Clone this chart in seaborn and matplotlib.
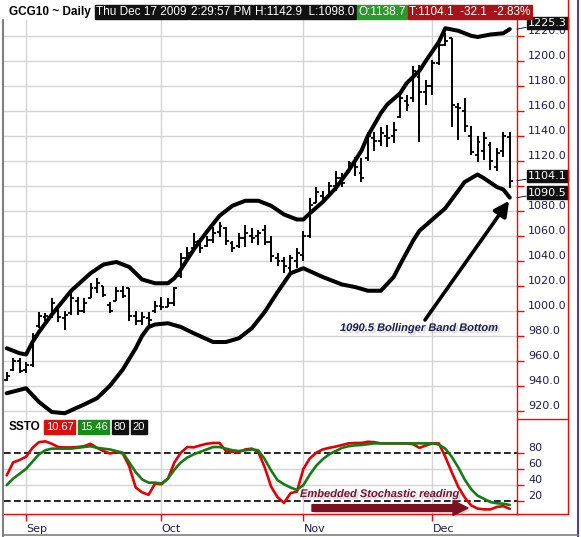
import numpy as np
import pandas as pd
import matplotlib
matplotlib.use("Agg")
import matplotlib.pyplot as plt
import matplotlib.patheffects as pe
from matplotlib.lines import Line2D
import seaborn as sns

# GCG10 daily bars, index 0 = Aug 27 2009 ... index 78 = Dec 17 2009
bar_open = [945, 953, 960, 953, 957, 988, 995, 996, 1000, 994, 998, 1008, 1000, 1010, 1018, 1020, 1005, 1008, 1016, 1018,
            996, 992, 994, 1000, 1004, 1003, 1006, 1028, 1042, 1050, 1056, 1052, 1057, 1063, 1066, 1054, 1052, 1058, 1060, 1060,
            1065, 1055, 1042, 1040, 1034, 1040, 1045, 1060, 1086, 1092, 1092, 1100, 1106, 1112, 1118, 1110, 1122, 1138, 1136, 1140,
            1140, 1155, 1168, 1170, 1187, 1175, 1180, 1198, 1213, 1218, 1163, 1160, 1140, 1125, 1128, 1133, 1115, 1128, 1138.7]
bar_high = [951, 962, 962, 959, 982, 999, 998, 1010, 1002, 1000, 1015, 1011, 1010, 1022, 1026, 1020, 1007, 1019, 1020, 1018,
            1000, 999, 999, 1008, 1011, 1010, 1019, 1046, 1051, 1062, 1058, 1060, 1067, 1071, 1067, 1056, 1062, 1069, 1066, 1065,
            1069, 1060, 1046, 1043, 1045, 1050, 1064, 1090, 1099, 1096, 1103, 1112, 1110, 1120, 1123, 1122, 1143, 1143, 1147, 1149,
            1151, 1176, 1173, 1196, 1197, 1185, 1201, 1217, 1222, 1218, 1166, 1170, 1148, 1140, 1143, 1135, 1130, 1143, 1142.9]
bar_low = [944, 952, 950, 950, 955, 986, 992, 994, 991, 985, 997, 997, 998, 1010, 1014, 1011, 998, 1008, 1010, 992,
           989, 989, 989, 998, 1001, 1003, 1004, 1026, 1041, 1049, 1046, 1051, 1054, 1059, 1053, 1047, 1050, 1051, 1054, 1053,
           1053, 1039, 1036, 1030, 1030, 1034, 1040, 1058, 1086, 1088, 1091, 1096, 1099, 1110, 1108, 1103, 1120, 1128, 1132, 1131,
           1134, 1154, 1160, 1167, 1135, 1165, 1173, 1197, 1212, 1147, 1137, 1143, 1125, 1119, 1121, 1113, 1112, 1123, 1098.0]
bar_close = [948, 960, 952, 957, 980, 996, 996, 1006, 995, 997, 1010, 1000, 1006, 1018, 1022, 1013, 1000, 1016, 1012, 996,
             992, 995, 993, 1004, 1003, 1006, 1018, 1042, 1046, 1055, 1050, 1057, 1062, 1068, 1056, 1050, 1058, 1062, 1058, 1062,
             1055, 1044, 1040, 1036, 1042, 1046, 1060, 1085, 1095, 1090, 1100, 1106, 1102, 1118, 1115, 1106, 1140, 1136, 1142, 1138,
             1145, 1170, 1165, 1192, 1175, 1180, 1198, 1213, 1216, 1165, 1162, 1148, 1127, 1135, 1138, 1120, 1126, 1140, 1104.1]

# Bollinger bands
upper_idx = [0, 2, 3, 4, 5, 7, 10, 13, 15, 17, 19, 21, 23, 25, 26, 27, 29, 31, 33, 35, 37, 39, 41, 43, 45, 46, 47, 49,
             51, 53, 55, 56, 58, 59, 61, 62, 64, 65, 67, 68, 70, 72, 73, 75, 77, 78]
upper_band = [970, 966, 965, 975, 983, 997, 1016, 1030, 1037, 1039, 1035, 1025, 1022, 1022, 1026, 1033, 1049, 1063, 1076,
              1084, 1088, 1088, 1084, 1077, 1073, 1073, 1078, 1087, 1098, 1112, 1128, 1140, 1158, 1165, 1174, 1182, 1192,
              1200, 1215, 1226, 1224, 1220, 1219, 1221, 1222, 1225.3]
lower_idx = [0, 3, 5, 7, 9, 12, 14, 16, 18, 20, 21, 22, 23, 25, 27, 29, 32, 34, 36, 38, 40, 42, 44, 46, 49, 52, 54, 56,
             58, 60, 61, 63, 64, 66, 68, 70, 71, 73, 74, 76, 77, 78]
lower_band = [934, 938, 927, 919, 918, 925, 930, 940, 953, 970, 980, 987, 989, 990, 987, 982, 975, 975, 978, 986, 999,
              1015, 1030, 1034, 1027, 1021, 1019, 1016, 1016, 1027, 1037, 1056, 1064, 1073, 1082, 1096, 1103, 1109, 1106,
              1099, 1097, 1090.5]

# slow stochastic %K (red) and %D (green)
ssto_k = [52, 68, 71, 75, 86, 93, 94, 91, 87, 86.5, 86.5, 87, 88, 91, 86, 82, 79, 81, 79, 63,
          37, 31, 28, 42, 41, 48, 68, 80, 87, 86.6, 89, 91, 92, 92, 82, 81, 81, 84, 85, 81,
          62, 38, 25, 18, 30, 32, 60, 73, 80, 84, 86, 87.5, 89.5, 91.5, 92, 92, 93.5, 93, 91.5, 91.5,
          91.5, 91.5, 91.5, 90.5, 86, 89, 91.5, 91.5, 75, 56, 38, 25, 15, 11, 10, 10, 13, 14, 10.67]
ssto_d = [40, 48, 54, 60, 69, 78, 83, 85, 85, 85, 85, 86, 87, 88, 86, 85, 84, 82, 80, 68,
          56, 47, 43, 43, 42, 48, 59, 68, 74, 78, 81, 84, 87, 87, 85, 83, 82, 83, 84, 83,
          72, 58, 46, 41, 37, 34, 40, 53, 64, 72, 78, 82, 86, 88, 89, 89.5, 90.5, 91.5, 91.5, 91.5,
          91.5, 91.5, 91.5, 91.5, 91.5, 91.5, 91.5, 90, 85, 75, 62, 47, 35, 27, 23, 19, 17.5, 17, 15.46]

month_labels = ["Sep", "Oct", "Nov", "Dec"]
month_idx = [3, 24, 46, 66]
price_ticks = [920, 940, 960, 980, 1000, 1020, 1040, 1060, 1080, 1100, 1120, 1140, 1160, 1180, 1200, 1220]
ssto_ticks = [20, 40, 60, 80]
header_text = ["Thu Dec 17 2009", "2:29:57 PM", "H:1142.9  L:1098.0", "O:1138.7", "T:1104.1  -32.1  -2.83%"]
header_color = ["#111111", "#111111", "#111111", "#2a9a2a", "#a5141a"]
legend_text = ["10.67", "15.46", "80", "20"]
legend_color = ["#d81010", "#1a8a1a", "#111111", "#111111"]

W, H = 581, 537
NAVY = "#1c1c50"
GRID = "#d4d4d4"
ARIAL = ["Liberation Sans", "DejaVu Sans"]


def fx(px):
    return px / W


def fy(py):
    return 1 - py / H


def box_row(fig, x0, y, texts, colors, size, pad, gap):
    # lay out black/coloured label boxes one after the other
    renderer = fig.canvas.get_renderer()
    pad_px = pad * size * 100 / 72
    x = x0 + pad_px
    for txt, col in zip(texts, colors):
        t = fig.text(fx(x), fy(y), txt, family=ARIAL, fontsize=size, color="white", va="center", ha="left",
                     bbox=dict(boxstyle=f"square,pad={pad}", fc=col, ec=col))
        ext = t.get_window_extent(renderer)
        x = x + ext.width + 2 * pad_px + gap


sns.set_style("white")
plt.rcParams["font.family"] = ["DejaVu Sans"]

fig = plt.figure(figsize=(W / 100, H / 100), dpi=100)
ax = fig.add_axes([fx(4), fy(419), fx(517) - fx(4), fy(20) - fy(419)])
ax2 = fig.add_axes([fx(4), fy(514), fx(517) - fx(4), fy(419) - fy(514)])

idx = np.arange(len(bar_close))
xlim = (-0.42, 79.12)

# ---- price panel ----
for p in price_ticks:
    ax.axhline(p, color=GRID, lw=1, zorder=0)
for m in month_idx:
    ax.axvline(m, color=GRID, lw=1, zorder=0)

ax.vlines(idx, bar_low, bar_high, color="black", lw=1.4, zorder=2)
ax.hlines(bar_open, idx - 0.45, idx, color="black", lw=1.3, zorder=2)
ax.hlines(bar_close, idx, idx + 0.45, color="black", lw=1.3, zorder=2)

bands = pd.DataFrame({"idx": upper_idx, "val": upper_band})
sns.lineplot(data=bands, x="idx", y="val", ax=ax, color="black", linewidth=2.9,
             estimator=None, sort=False, legend=False, zorder=3)
bands = pd.DataFrame({"idx": lower_idx, "val": lower_band})
sns.lineplot(data=bands, x="idx", y="val", ax=ax, color="black", linewidth=2.9,
             estimator=None, sort=False, legend=False, zorder=3)

ax.set_xlim(*xlim)
ax.set_ylim(913.4, 1232.6)
ax.set_xticks([])
ax.set_xlabel("")
ax.set_ylabel("")
ax.yaxis.tick_right()
ax.set_yticks(price_ticks)
# 1100.0 sits under the value flags, so it is not shown
ax.set_yticklabels(["" if p == 1100 else f"{p:.1f}" for p in price_ticks])
ax.tick_params(axis="y", colors="red", labelcolor=NAVY, length=5, width=1, labelsize=8, pad=3, right=True)
for lbl in ax.get_yticklabels():
    lbl.set_verticalalignment("bottom")
for s in ["left", "top", "bottom"]:
    ax.spines[s].set_visible(False)
ax.spines["right"].set_color("red")
ax.spines["right"].set_linewidth(1)

# right-side value flags
for val, dy in [(1225.3, 6), (1104.1, 4.5), (1090.5, 5)]:
    ax.annotate(f"{val:.1f}", xy=(1, val), xycoords=("axes fraction", "data"),
                xytext=(11, dy), textcoords="offset pixels", color="white", fontsize=8,
                va="center", ha="left", annotation_clip=False, zorder=5,
                bbox=dict(boxstyle="square,pad=0.12", fc="#111111", ec="#111111"),
                arrowprops=dict(arrowstyle="-", lw=0.6, color="black", shrinkA=0, shrinkB=0))

# ---- stochastic panel ----
for v in [40, 60]:
    ax2.axhline(v, color=GRID, lw=1, zorder=0)
for m in month_idx:
    ax2.axvline(m, color=GRID, lw=1, zorder=0)
for v in [80, 20]:
    ax2.axhline(v, color="black", lw=1.2, ls=(0, (4, 2)), zorder=1)

stoch = pd.DataFrame({"idx": idx, "k": ssto_k, "d": ssto_d})
sns.lineplot(data=stoch, x="idx", y="k", ax=ax2, color="#e00000", linewidth=1.9,
             estimator=None, sort=False, legend=False, zorder=3)
sns.lineplot(data=stoch, x="idx", y="d", ax=ax2, color="#167a16", linewidth=1.9,
             estimator=None, sort=False, legend=False, zorder=4)

ax2.set_xlim(*xlim)
ax2.set_ylim(4.3, 121.6)
ax2.set_xlabel("")
ax2.set_ylabel("")
ax2.yaxis.tick_right()
ax2.set_yticks(ssto_ticks)
ax2.set_yticklabels([str(v) for v in ssto_ticks])
ax2.tick_params(axis="y", colors="red", labelcolor=NAVY, length=5, width=1, labelsize=8, pad=3, right=True)
for lbl in ax2.get_yticklabels():
    lbl.set_verticalalignment("bottom")
ax2.set_xticks(month_idx)
ax2.set_xticklabels(month_labels, ha="left")
ax2.tick_params(axis="x", colors="red", labelcolor=NAVY, length=5, width=1, labelsize=8, pad=2, bottom=True)
for s in ["left", "top"]:
    ax2.spines[s].set_visible(False)
for s in ["right", "bottom"]:
    ax2.spines[s].set_color("red")
    ax2.spines[s].set_linewidth(1)

# ---- frame lines ----
frame = [((3, 3), (20, 537), "#7f7f7f", 1.5),
         ((568, 568), (0, 514), "red", 1),
         ((578, 578), (0, 537), "#1a1aa0", 1.2),
         ((517, 568), (419, 419), "red", 1),
         ((517, 568), (514, 514), "red", 1),
         ((3, 578), (535, 535), "#7f7f7f", 1.2)]
for xs, ys, col, lw in frame:
    fig.add_artist(Line2D([fx(x) for x in xs], [fy(y) for y in ys], color=col, lw=lw))

# ---- header ----
fig.text(fx(9), fy(12), "GCG10 ~ Daily", family=ARIAL, fontsize=8.5, fontweight="bold",
         color="black", va="center")
box_row(fig, 95, 12, header_text, header_color, size=8.5, pad=0.12, gap=1)

fig.text(fx(9), fy(427), "SSTO", family=ARIAL, fontsize=8.5, fontweight="bold", color="black", va="center")
box_row(fig, 44, 427, legend_text, legend_color, size=8, pad=0.15, gap=3)

# ---- annotations ----
shadow = [pe.SimplePatchShadow(offset=(1.5, -1.5), shadow_rgbFace="0.55", alpha=0.35), pe.Normal()]
fig.text(fx(340), fy(328), "1090.5 Bollinger Band Bottom", family=ARIAL,
         fontsize=8, fontweight="bold", fontstyle="italic", color="#1c2050", va="center",
         path_effects=shadow)
ax.annotate("", xy=(77.9, 1088), xycoords="data", xytext=(425, H - 320), textcoords="figure pixels",
            annotation_clip=False,
            arrowprops=dict(arrowstyle="-|>,head_length=0.9,head_width=0.45", lw=2.6, color="black",
                            shrinkA=0, shrinkB=0, path_effects=shadow))

fig.text(fx(300), fy(494), "Embedded Stochastic reading", family=ARIAL,
         fontsize=8, fontweight="bold", fontstyle="italic", color="#7a1030", va="center",
         path_effects=shadow)
ax2.annotate("", xy=(468, H - 508), xycoords="figure pixels", xytext=(312, H - 508),
             textcoords="figure pixels", annotation_clip=False,
             arrowprops=dict(arrowstyle="simple,head_length=0.9,head_width=0.9,tail_width=0.4",
                             mutation_scale=12, fc="#7a1020", ec="#7a1020",
                             shrinkA=0, shrinkB=0, path_effects=shadow))

fig.savefig("out.png", dpi=100)
